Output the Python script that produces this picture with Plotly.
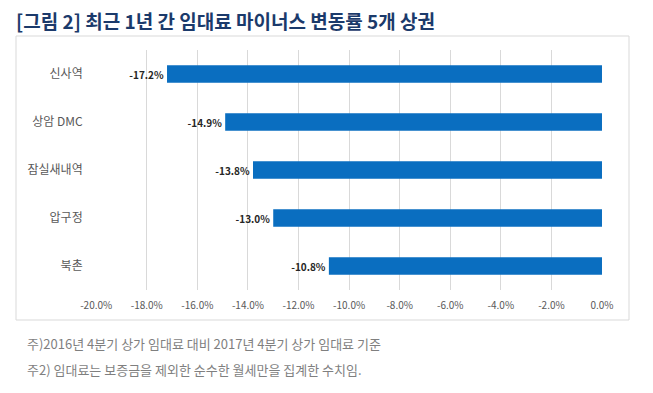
import plotly.graph_objects as go

categories = ["신사역", "상암 DMC", "잠실새내역", "압구정", "북촌"]
values = [-17.2, -14.9, -13.8, -13.0, -10.8]
tick_vals = [-20, -18, -16, -14, -12, -10, -8, -6, -4, -2, 0]
tick_text = ["-20.0%", "-18.0%", "-16.0%", "-14.0%", "-12.0%", "-10.0%",
             "-8.0%", "-6.0%", "-4.0%", "-2.0%", "0.0%"]
title_text = "[그림 2] 최근 1년 간 임대료 마이너스 변동률 5개 상권"
note1 = "주)2016년 4분기 상가 임대료 대비 2017년 4분기 상가 임대료 기준"
note2 = "주2) 임대료는 보증금을 제외한 순수한 월세만을 집계한 수치임."

W, H = 653, 393
OFF = 8  # page body margin offset
FONT = "Noto Sans CJK KR, Malgun Gothic, sans-serif"


def px(x):
    return (x - OFF) / W


def py(y):
    return 1 - (y - OFF) / H


fig = go.Figure(go.Bar(
    x=values, y=categories, orientation="h",
    marker=dict(color="#0A6EC0", line=dict(width=0)),
    width=0.36,
    text=[f"{v:.1f}%" for v in values], texttemplate="<b>%{text}</b>", textposition="outside",
    textfont=dict(size=10, color="#262626", family=FONT),
    cliponaxis=False,
))

fig.update_layout(
    width=W, height=H,
    margin=dict(l=0, r=0, t=0, b=0, autoexpand=False),
    paper_bgcolor="white", plot_bgcolor="white",
    showlegend=False,
    font=dict(family=FONT),
    xaxis=dict(
        domain=[px(95.7), px(602.5)],
        range=[-20.02, 0.02],
        tickvals=tick_vals, ticktext=tick_text,
        showgrid=True, gridcolor="#D9D9D9", gridwidth=1,
        zeroline=False, showline=False, ticks="",
        tickfont=dict(size=10, color="#595959"),
        ticklabelstandoff=8, automargin=False,
    ),
    yaxis=dict(
        domain=[py(290), py(50)],
        categoryorder="array", categoryarray=categories, autorange="reversed",
        showgrid=False, zeroline=False, showline=False, ticks="",
        tickfont=dict(size=12, color="#595959"),
        ticklabelstandoff=12, automargin=False,
    ),
    shapes=[dict(
        type="rect", xref="paper", yref="paper",
        x0=px(16), x1=px(629), y0=py(320), y1=py(36),
        line=dict(color="#D9D9D9", width=1), fillcolor="rgba(0,0,0,0)", layer="below",
    )],
    annotations=[
        dict(text="<b>" + title_text + "</b>", xref="paper", yref="paper",
             x=px(14), y=py(20.5), xanchor="left", yanchor="middle", showarrow=False,
             font=dict(size=19, color="#1B3A6B", family=FONT)),
        dict(text=note1, xref="paper", yref="paper",
             x=px(25), y=py(343), xanchor="left", yanchor="middle", showarrow=False,
             font=dict(size=13, color="#7F7F7F", family=FONT)),
        dict(text=note2, xref="paper", yref="paper",
             x=px(25), y=py(369), xanchor="left", yanchor="middle", showarrow=False,
             font=dict(size=13, color="#7F7F7F", family=FONT)),
    ],
)

fig.write_html("out.html")
